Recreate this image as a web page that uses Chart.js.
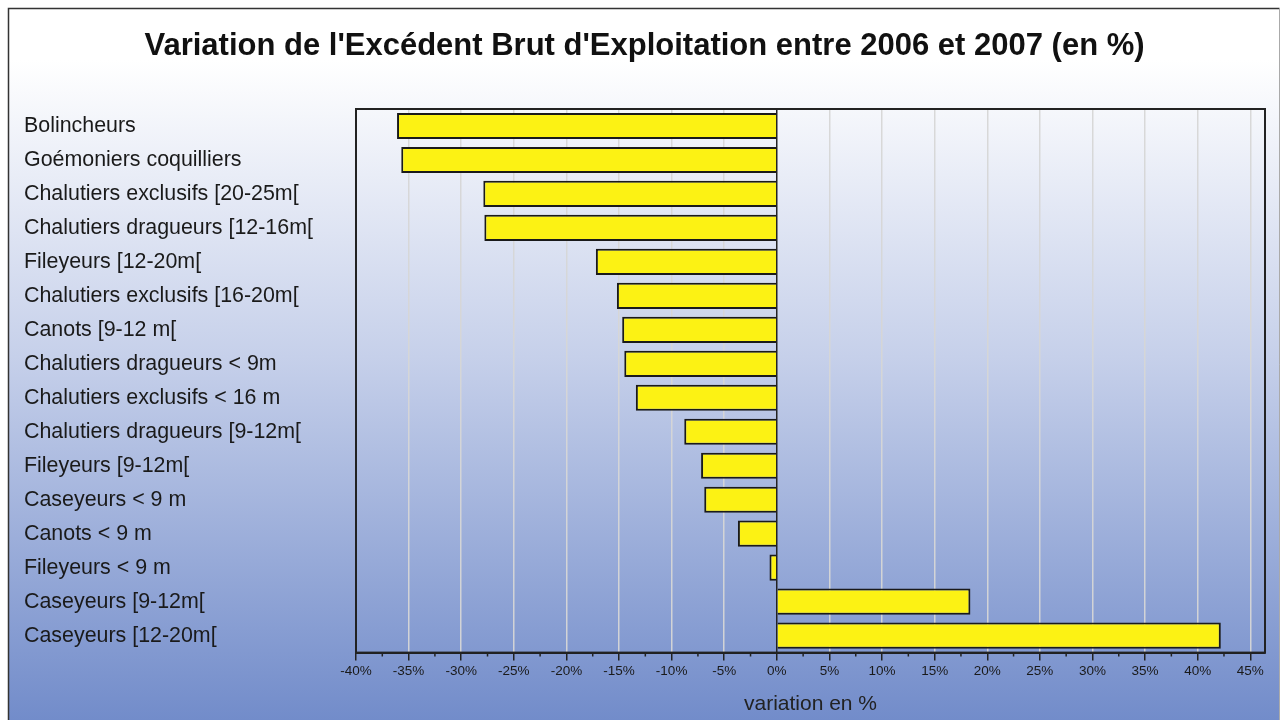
<!DOCTYPE html>
<html>
<head>
<meta charset="utf-8">
<script src="https://cdn.jsdelivr.net/npm/chart.js@4/dist/chart.umd.min.js"></script>
<style>
  html, body { margin: 0; padding: 0; background: #ffffff; }
  #wrap { width: 1281px; height: 720px; position: relative; }
</style>
</head>
<body>
<div id="wrap"><canvas id="c" width="1281" height="720"></canvas></div>
<script>
// ---- Data ----
const categories = [
  "Bolincheurs",
  "Goémoniers coquilliers",
  "Chalutiers exclusifs [20-25m[",
  "Chalutiers dragueurs [12-16m[",
  "Fileyeurs [12-20m[",
  "Chalutiers exclusifs [16-20m[",
  "Canots [9-12 m[",
  "Chalutiers dragueurs < 9m",
  "Chalutiers exclusifs < 16 m",
  "Chalutiers dragueurs [9-12m[",
  "Fileyeurs [9-12m[",
  "Caseyeurs < 9 m",
  "Canots < 9 m",
  "Fileyeurs < 9 m",
  "Caseyeurs [9-12m[",
  "Caseyeurs [12-20m["
];
const variationValues = [
  -36.1, -35.7, -27.9, -27.8, -17.2, -15.2, -14.7, -14.5,
  -13.4, -8.8, -7.2, -6.9, -3.7, -0.7, 18.4, 42.2
];
const xTickMin = -40;
const xTickMax = 45;
const xTickStep = 5;
const chartTitle = "Variation de l'Excédent Brut d'Exploitation entre 2006 et 2007 (en %)";
const xAxisTitle = "variation en %";

// ---- Plugins ----
const backgroundPlugin = {
  id: 'bg',
  beforeDraw(chart) {
    const ctx = chart.ctx;
    const w = chart.width, h = chart.height;
    ctx.save();
    ctx.fillStyle = '#ffffff';
    ctx.fillRect(0, 0, w, h);
    const g = ctx.createLinearGradient(0, 60, 0, h);
    g.addColorStop(0, '#ffffff');
    g.addColorStop(0.45, '#c6d0ea');
    g.addColorStop(1, '#728cca');
    ctx.fillStyle = g;
    ctx.fillRect(9, 9, w - 10, h);
    ctx.strokeStyle = '#333333';
    ctx.lineWidth = 1.5;
    ctx.beginPath();
    ctx.moveTo(8.5, h + 2);
    ctx.lineTo(8.5, 8.5);
    ctx.lineTo(w - 1.5, 8.5);
    ctx.stroke();
    ctx.strokeStyle = '#aaaaaa';
    ctx.lineWidth = 1;
    ctx.beginPath();
    ctx.moveTo(w - 1.5, 8.5);
    ctx.lineTo(w - 1.5, h + 2);
    ctx.stroke();
    ctx.restore();
  }
};

const frameAndMinorTicks = {
  id: 'frameMinor',
  afterDraw(chart) {
    const ctx = chart.ctx;
    const a = chart.chartArea;
    const xs = chart.scales.x;
    ctx.save();
    ctx.strokeStyle = '#222222';
    ctx.lineWidth = 2;
    ctx.strokeRect(a.left, a.top, a.right - a.left, a.bottom - a.top);
    ctx.lineWidth = 1.5;
    ctx.beginPath();
    for (let v = xTickMin + xTickStep / 2; v < xs.max; v += xTickStep) {
      const px = xs.getPixelForValue(v);
      ctx.moveTo(px, a.bottom);
      ctx.lineTo(px, a.bottom + 4);
    }
    ctx.stroke();
    ctx.restore();
  }
};

// ---- Chart ----
new Chart(document.getElementById('c'), {
  type: 'bar',
  data: {
    labels: categories,
    datasets: [{
      data: variationValues,
      backgroundColor: '#fcf214',
      borderColor: '#1a1a1a',
      borderWidth: 2,
      borderSkipped: 'start',
      barPercentage: 0.77,
      categoryPercentage: 1.0
    }]
  },
  options: {
    indexAxis: 'y',
    responsive: false,
    animation: false,
    devicePixelRatio: 1,
    layout: { padding: { left: 24, right: 16, top: 0, bottom: 0 } },
    plugins: {
      legend: { display: false },
      tooltip: { enabled: false },
      title: {
        display: true,
        text: chartTitle,
        color: '#111111',
        font: { family: 'Liberation Sans, Arial, sans-serif', size: 31, weight: 'bold' },
        padding: { top: 28, bottom: 43.8 }
      }
    },
    scales: {
      x: {
        type: 'linear',
        min: xTickMin,
        max: 46.4,
        ticks: {
          stepSize: xTickStep,
          includeBounds: false,
          color: '#1a1a1a',
          font: { family: 'Liberation Sans, Arial, sans-serif', size: 13.5 },
          padding: 3,
          maxRotation: 0,
          callback: (v) => v + '%'
        },
        grid: {
          color: (ctx) => (ctx.tick && ctx.tick.value === 0) ? '#222222' : 'rgba(214,214,214,0.95)',
          lineWidth: 1.5,
          tickColor: '#222222',
          tickLength: 8
        },
        border: { display: true, color: '#222222', width: 2 },
        title: {
          display: true,
          text: xAxisTitle,
          color: '#222222',
          font: { family: 'Liberation Sans, Arial, sans-serif', size: 21 },
          padding: { top: 9, bottom: 3 }
        }
      },
      y: {
        type: 'category',
        offset: true,
        afterFit(scale) { scale.width = 332; },
        ticks: {
          crossAlign: 'far',
          color: '#1a1a1a',
          font: { family: 'Liberation Sans, Arial, sans-serif', size: 21.4 },
          autoSkip: false
        },
        grid: { display: false, drawTicks: false },
        border: { display: true, color: '#222222', width: 2 }
      }
    }
  },
  plugins: [backgroundPlugin, frameAndMinorTicks]
});
</script>
</body>
</html>
